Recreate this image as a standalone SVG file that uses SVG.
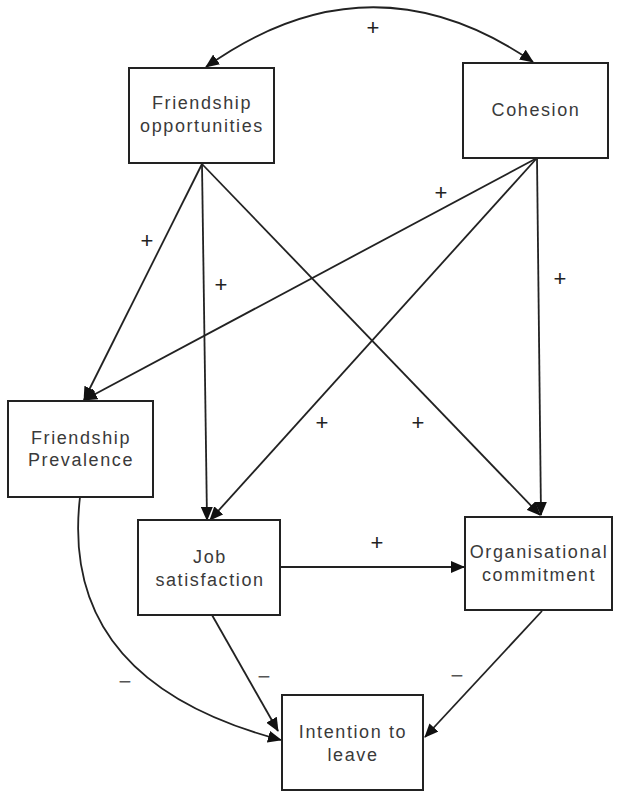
<svg xmlns="http://www.w3.org/2000/svg" width="617" height="793" viewBox="0 0 617 793">
<defs>
<style>
.box{fill:#fff;stroke:#222;stroke-width:2}
.lbl{font-family:"Liberation Sans",Arial,sans-serif;font-size:18px;letter-spacing:1.6px;fill:#3a3a3a;text-anchor:middle}
.sign{font-family:"Liberation Sans",Arial,sans-serif;font-size:22px;fill:#222;text-anchor:middle}
.minus{font-family:"Liberation Sans",Arial,sans-serif;font-size:22px;fill:#555;text-anchor:middle}
.edge{fill:none;stroke:#222;stroke-width:1.8}
</style>
<marker id="ah" viewBox="0 0 14 12" refX="13" refY="6" markerWidth="14" markerHeight="12" markerUnits="userSpaceOnUse" orient="auto-start-reverse">
<path d="M0,0 L14,6 L0,12 z" fill="#111"/>
</marker>
</defs>
<rect width="617" height="793" fill="#fff"/>
<g id="connectors">
<path class="edge" d="M206,67 Q370,-50 533,62" marker-start="url(#ah)" marker-end="url(#ah)"/>
<path class="edge" d="M202,164 L84,400" marker-end="url(#ah)"/>
<path class="edge" d="M202,164 L207,520" marker-end="url(#ah)"/>
<path class="edge" d="M202,164 L540,515" marker-end="url(#ah)"/>
<path class="edge" d="M537,158 L84,400" marker-end="url(#ah)"/>
<path class="edge" d="M537,158 L210,520" marker-end="url(#ah)"/>
<path class="edge" d="M537,158 L541,515" marker-end="url(#ah)"/>
<path class="edge" d="M280,567 L464,567" marker-end="url(#ah)"/>
<path class="edge" d="M80,497 C68,600 110,695 281,740" marker-end="url(#ah)"/>
<path class="edge" d="M212,615 L278,731" marker-end="url(#ah)"/>
<path class="edge" d="M542,611 L425,737" marker-end="url(#ah)"/>
</g>
<g id="signs">
<text class="sign" x="373" y="35">+</text>
<text class="sign" x="147" y="248">+</text>
<text class="sign" x="221" y="292">+</text>
<text class="sign" x="441" y="200">+</text>
<text class="sign" x="560" y="286">+</text>
<text class="sign" x="322" y="430">+</text>
<text class="sign" x="418" y="430">+</text>
<text class="sign" x="377" y="550">+</text>
<text class="minus" x="125" y="689">−</text>
<text class="minus" x="264" y="684">−</text>
<text class="minus" x="457" y="683">−</text>
</g>
<g id="friendship-opportunities">
<rect class="box" x="129" y="68" width="145" height="95"/>
<text class="lbl" x="202" y="109">Friendship</text>
<text class="lbl" x="202" y="132">opportunities</text>
</g>
<g id="cohesion">
<rect class="box" x="463" y="63" width="145" height="95"/>
<text class="lbl" x="536" y="116">Cohesion</text>
</g>
<g id="friendship-prevalence">
<rect class="box" x="8" y="401" width="145" height="96"/>
<text class="lbl" x="81" y="444">Friendship</text>
<text class="lbl" x="81" y="466">Prevalence</text>
</g>
<g id="job-satisfaction">
<rect class="box" x="138" y="520" width="142" height="95"/>
<text class="lbl" x="210" y="563">Job</text>
<text class="lbl" x="210" y="586">satisfaction</text>
</g>
<g id="organisational-commitment">
<rect class="box" x="465" y="517" width="147" height="93"/>
<text class="lbl" x="539" y="558">Organisational</text>
<text class="lbl" x="539" y="581">commitment</text>
</g>
<g id="intention-to-leave">
<rect class="box" x="282" y="695" width="141" height="95"/>
<text class="lbl" x="353" y="738">Intention to</text>
<text class="lbl" x="353" y="761">leave</text>
</g>
</svg>
